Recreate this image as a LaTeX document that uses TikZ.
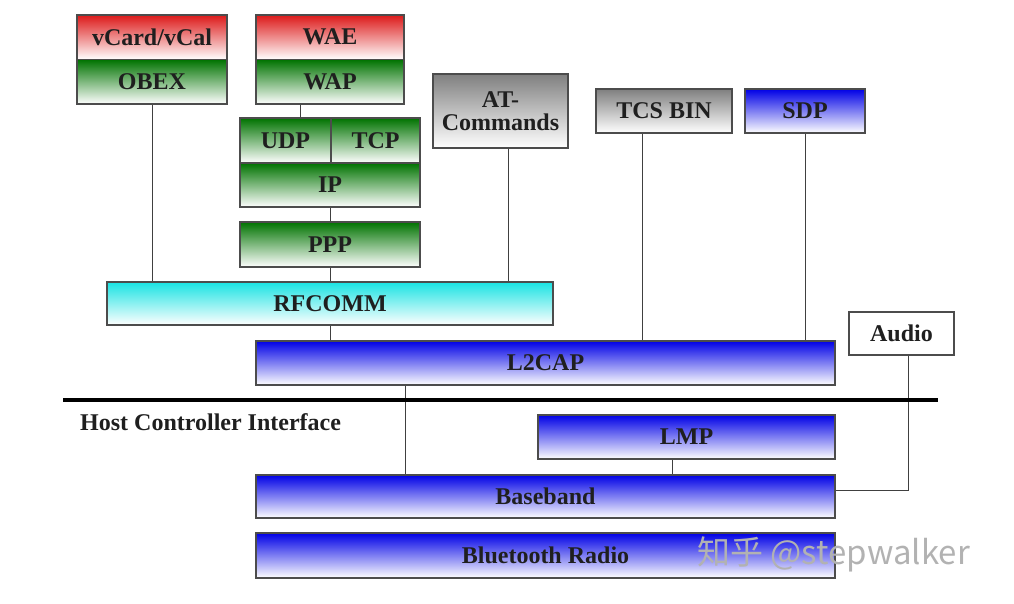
\documentclass[tikz,border=0pt]{standalone}
\usepackage{fontspec}
\setmainfont{Liberation Serif}
\newfontfamily\cjkwm{Noto Sans CJK SC}
\tikzset{
  layer/.style={draw=black!70, line width=1.1pt, inner sep=0pt, align=center,
    font=\fontsize{24}{26}\selectfont\bfseries, text=black!88},
  redbox/.style={layer, top color=red!85!black!90, middle color=red!30!white, bottom color=white},
  greenbox/.style={layer, top color=green!45!black, middle color=green!45!black!30!white, bottom color=white},
  bluebox/.style={layer, top color=blue!90!black, middle color=blue!30!white, bottom color=white},
  cyanbox/.style={layer, top color=cyan!75!teal!90, middle color=cyan!25!white, bottom color=white},
  graybox/.style={layer, top color=black!50, middle color=black!22, bottom color=white},
  plainbox/.style={layer, fill=white},
  link/.style={draw=black!75, line width=0.9pt},
}
\begin{document}
\begin{tikzpicture}[x=1pt,y=-1pt]
\useasboundingbox (0,0) rectangle (1014,603);
% upper stacks
\node[redbox,   minimum width=150pt, minimum height=44.5pt] (vcard) at (152,37.25) {vCard/vCal};
\node[greenbox, minimum width=150pt, minimum height=44.5pt] (obex)  at (152,81.75) {OBEX};
\node[redbox,   minimum width=148pt, minimum height=44.5pt] (wae)   at (330,37.25) {WAE};
\node[greenbox, minimum width=148pt, minimum height=44.5pt] (wap)   at (330,81.75) {WAP};
\node[greenbox, minimum width=91pt,  minimum height=45pt]   (udp)   at (285.5,140.5) {UDP};
\node[greenbox, minimum width=89pt,  minimum height=45pt]   (tcp)   at (375.5,140.5) {TCP};
\node[greenbox, minimum width=180pt, minimum height=44pt]   (ip)    at (330,185) {IP};
\node[greenbox, minimum width=180pt, minimum height=45pt]   (ppp)   at (330,244.5) {PPP};
\node[graybox,  minimum width=135pt, minimum height=74pt]   (at)    at (500.5,111) {AT-\\[-3pt]Commands};
\node[graybox,  minimum width=136pt, minimum height=44pt]   (tcs)   at (664,111) {TCS BIN};
\node[bluebox,  minimum width=120pt, minimum height=44pt]   (sdp)   at (805,111) {SDP};
% middle
\node[cyanbox,  minimum width=446pt, minimum height=43pt]   (rfcomm) at (330,303.5) {RFCOMM};
\node[bluebox,  minimum width=579pt, minimum height=44pt]   (l2cap)  at (545.5,363) {L2CAP};
\node[plainbox, minimum width=105pt, minimum height=43pt]   (audio)  at (901.5,333.5) {Audio};
% HCI
\coordinate (hciL) at (63,400);
\coordinate (hciR) at (938,400);
\node[anchor=west, inner sep=0pt, font=\fontsize{24}{26}\selectfont\bfseries, text=black!88] (hci) at (80,422) {Host Controller Interface};
% lower
\node[bluebox,  minimum width=297pt, minimum height=44pt]   (lmp)      at (686.5,437) {LMP};
\node[bluebox,  minimum width=579pt, minimum height=43pt]   (baseband) at (545.5,496.5) {Baseband};
\node[bluebox,  minimum width=579pt, minimum height=45pt]   (radio)    at (545.5,555.5) {Bluetooth Radio};
% connectors
\draw[link] (obex.south) -- (obex.south |- rfcomm.north);
\draw[link] ([xshift=-30pt]wap.south) -- ([xshift=-30pt]wap.south |- udp.north);
\draw[link] (ip.south) -- (ppp.north);
\draw[link] (ppp.south) -- (rfcomm.north);
\draw[link] ([xshift=7.5pt]at.south) -- ([xshift=7.5pt]at.south |- rfcomm.north);
\draw[link] (rfcomm.south) -- (rfcomm.south |- l2cap.north);
\draw[link] ([xshift=-22pt]tcs.south) -- ([xshift=-22pt]tcs.south |- l2cap.north);
\draw[link] (sdp.south) -- (sdp.south |- l2cap.north);
\draw[link] ([xshift=-140.5pt]l2cap.south) -- ([xshift=-140.5pt]l2cap.south |- baseband.north);
\draw[link] ([xshift=-14.5pt]lmp.south) -- ([xshift=-14.5pt]lmp.south |- baseband.north);
\draw[link] ([xshift=6.5pt]audio.south) |- ([yshift=6.5pt]baseband.east);
\draw[line width=4.5pt, black] (hciL) -- (hciR);
% watermark
\node[anchor=west, inner sep=0pt, text=black!30, font=\cjkwm\fontsize{33}{36}\selectfont] (wm) at (697,554) {知乎 @stepwalker};
\end{tikzpicture}
\end{document}
